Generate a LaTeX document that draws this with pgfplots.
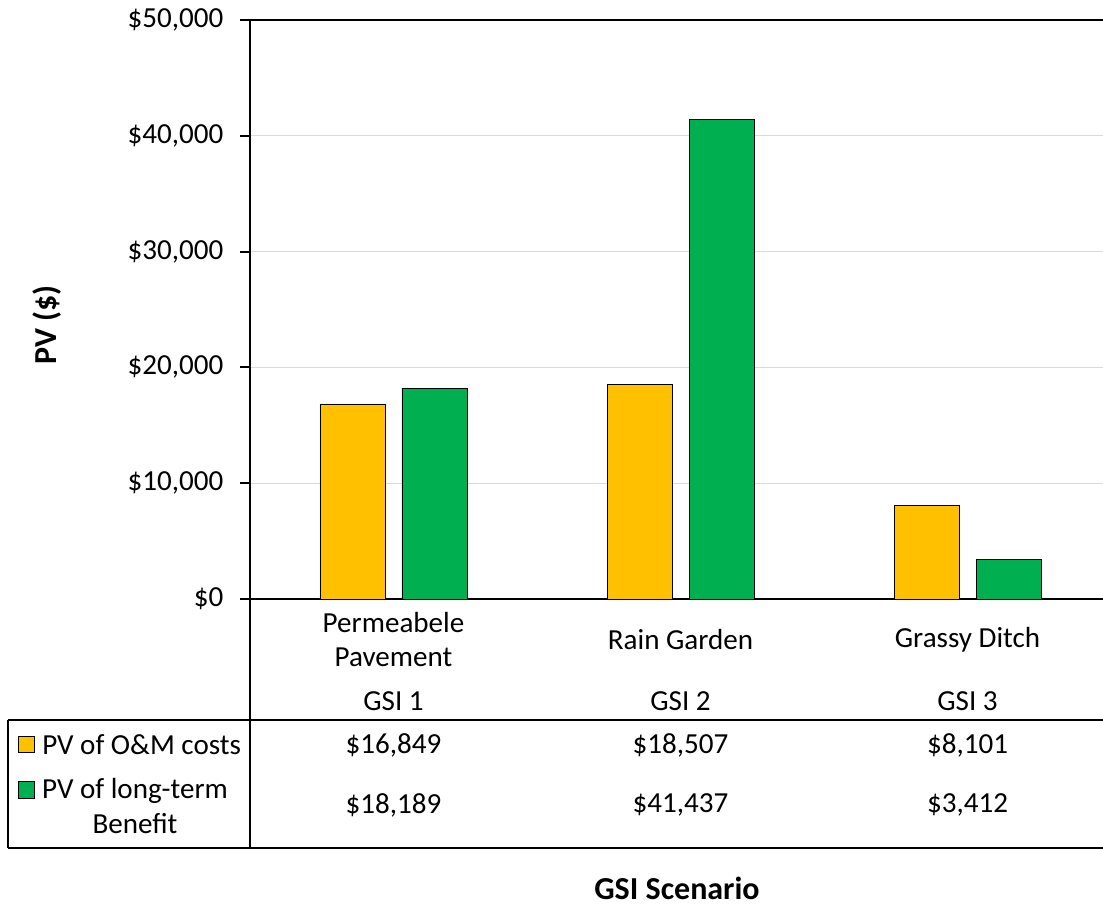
\documentclass[border=0pt]{standalone}
\usepackage{fontspec}
\setmainfont{Carlito}
\usepackage{pgfplots}
\pgfplotsset{compat=1.18}
\definecolor{barorange}{HTML}{FFC000}
\definecolor{bargreen}{HTML}{00B050}
\definecolor{gridgray}{HTML}{D9D9D9}
\begin{document}
\fontsize{21.8}{26.2}\selectfont
\begin{tikzpicture}
\useasboundingbox (-187.5pt,-229.5pt) rectangle (639.75pt,449.25pt);
\begin{axis}[
  at={(0,0)}, anchor=south west,
  scale only axis,
  width=645.75pt, height=434.25pt,
  xmin=-0.5, xmax=2.5,
  ymin=0, ymax=50000,
  ybar=12.75pt, bar width=48.75pt,
  axis lines*=left,
  axis line style={line width=1.4pt, black},
  clip=false,
  xtick={0,1,2},
  xticklabels={{Permeabele\\Pavement},{Rain Garden},{Grassy Ditch}},
  xtick style={draw=none},
  xticklabel style={align=center, anchor=center, yshift=-22.9pt, font=\fontsize{21.8}{26.2}\selectfont},
  ytick={0,10000,20000,30000,40000,50000},
  yticklabels={{\$0},{\$10,000},{\$20,000},{\$30,000},{\$40,000},{\$50,000}},
  scaled y ticks=false,
  yticklabel style={anchor=east, xshift=-5pt, font=\fontsize{21.8}{26.2}\selectfont},
  tick align=outside,
  major tick length=7.5pt,
  ytick style={line width=1.4pt, black},
  ymajorgrids,
  grid style={gridgray, line width=1pt},
  /pgf/number format/assume math mode=true,
]
\addplot[fill=barorange, draw=black, line width=0.5pt] coordinates {(0,16849) (1,18507) (2,8101)};
\addplot[fill=bargreen, draw=black, line width=0.5pt] coordinates {(0,18189) (1,41437) (2,3412)};
\draw[black, line width=1.4pt] (rel axis cs:0,1) -- (rel axis cs:1,1);
% data table values
\node at (axis cs:0,0) [yshift=-76.5pt] {GSI 1};
\node at (axis cs:1,0) [yshift=-76.5pt] {GSI 2};
\node at (axis cs:2,0) [yshift=-76.5pt] {GSI 3};
\node at (axis cs:0,0) [yshift=-109.5pt] {\$16,849};
\node at (axis cs:1,0) [yshift=-109.5pt] {\$18,507};
\node at (axis cs:2,0) [yshift=-109.5pt] {\$8,101};
\node at (axis cs:0,0) [yshift=-154.5pt] {\$18,189};
\node at (axis cs:1,0) [yshift=-154.5pt] {\$41,437};
\node at (axis cs:2,0) [yshift=-154.5pt] {\$3,412};
\end{axis}
% axis title
\node[rotate=90, font=\fontsize{24}{28}\selectfont\bfseries] at (-152.25pt,205.5pt) {PV (\$)};
% data table grid
\draw[black, line width=1.4pt] (0,0) -- (0,-186.75pt);
\draw[black, line width=1.4pt] (-181.5pt,-90.75pt) -- (639.75pt,-90.75pt);
\draw[black, line width=1.4pt] (-181.5pt,-186.75pt) -- (639.75pt,-186.75pt);
\draw[black, line width=1.4pt] (-181.5pt,-90.75pt) -- (-181.5pt,-186.75pt);
% legend keys
\draw[fill=barorange, draw=black, line width=0.6pt] (-174pt,-102.75pt) rectangle (-162pt,-114.75pt);
\draw[fill=bargreen, draw=black, line width=0.6pt] (-174pt,-136.5pt) rectangle (-162pt,-149.25pt);
\node[anchor=west, inner sep=0pt] at (-156pt,-109.5pt) {PV of O\&M costs};
\node[align=center] at (-86.25pt,-155.25pt) {PV of long-term\\Benefit};
\node[font=\fontsize{24}{28}\selectfont\bfseries] at (320.25pt,-216.75pt) {GSI Scenario};
\end{tikzpicture}
\end{document}
